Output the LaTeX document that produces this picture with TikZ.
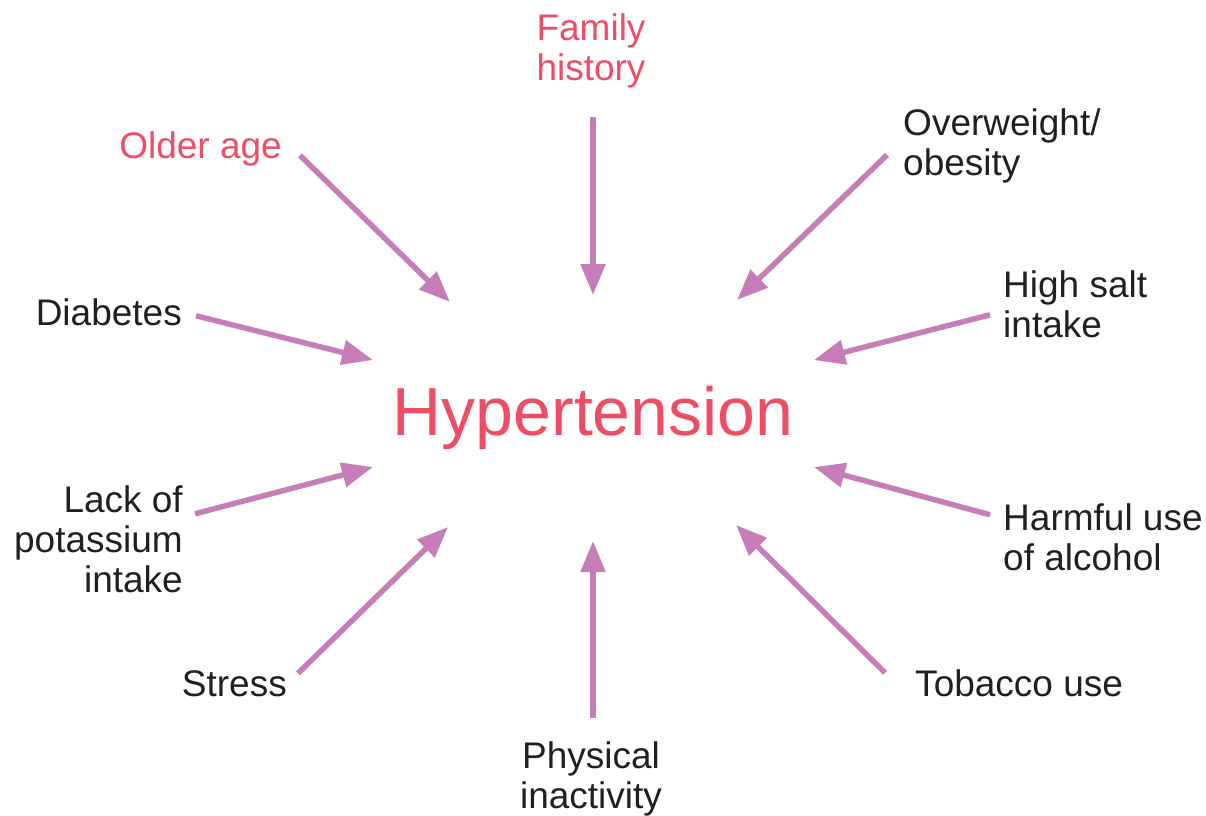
\documentclass[tikz,border=0pt]{standalone}
\usepackage{fontspec}
\setmainfont{Liberation Sans}
\usetikzlibrary{arrows.meta}
\definecolor{riskred}{HTML}{EE4D66}
\definecolor{arrowpink}{HTML}{C77DB8}
\definecolor{textblack}{HTML}{231F20}
\tikzstyle{factor} = [inner sep=0pt, text=textblack, font=\fontsize{37}{40}\selectfont]
\tikzstyle{fixed} = [factor, text=riskred]
\tikzstyle{arrow} = [line width=5.5pt, draw=arrowpink, -{Triangle[length=31pt,width=24pt]}]

\begin{document}
\begin{tikzpicture}[x=1pt,y=-1pt]
    \useasboundingbox (0,0) rectangle (1206,815);

    \node (hyp) [anchor=base, inner sep=0pt, text=riskred, font=\fontsize{68}{80}\selectfont] at (593,435) {Hypertension};

    % multi-line labels sit on the baseline of their last line
    \node (family) [fixed, anchor=base, align=center] at (591,80) {Family\\history};
    \node (older) [fixed, anchor=base east] at (282,158) {Older age};
    \node (obesity) [factor, anchor=base west, align=left] at (903,175) {Overweight/\\obesity};
    \node (diabetes) [factor, anchor=base east] at (182,325) {Diabetes};
    \node (salt) [factor, anchor=base west, align=left] at (1003,337) {High salt\\intake};
    \node (potassium) [factor, anchor=base east, align=right] at (183,592) {Lack of\\potassium\\intake};
    \node (alcohol) [factor, anchor=base west, align=left] at (1003,570) {Harmful use\\of alcohol};
    \node (stress) [factor, anchor=base east] at (287,696) {Stress};
    \node (inactivity) [factor, anchor=base, align=center] at (591,808) {Physical\\inactivity};
    \node (tobacco) [factor, anchor=base west] at (915,696) {Tobacco use};

    % arrow tips round the centre
    \coordinate (tFamily) at (593,295);
    \coordinate (tOlder) at (450,302);
    \coordinate (tObesity) at (737,300);
    \coordinate (tDiabetes) at (373,360);
    \coordinate (tSalt) at (814,360);
    \coordinate (tPotassium) at (373,467);
    \coordinate (tAlcohol) at (814,467);
    \coordinate (tStress) at (448,527);
    \coordinate (tInactivity) at (593,541);
    \coordinate (tTobacco) at (736,525);

    \draw [arrow] ([shift={(2,29)}]family.south) -- (tFamily);
    \draw [arrow] ([shift={(18,7)}]older.east) -- (tOlder);
    \draw [arrow] ([shift={(-16,-28)}]obesity.south west) -- (tObesity);
    \draw [arrow] ([shift={(14,4)}]diabetes.east) -- (tDiabetes);
    \draw [arrow] ([shift={(-13,11)}]salt.west) -- (tSalt);
    \draw [arrow] ([shift={(12,-25)}]potassium.east) -- (tPotassium);
    \draw [arrow] ([shift={(-13,-22)}]alcohol.west) -- (tAlcohol);
    \draw [arrow] ([shift={(11,-10)}]stress.east) -- (tStress);
    \draw [arrow] ([shift={(2,-23)}]inactivity.north) -- (tInactivity);
    \draw [arrow] ([shift={(-30,-10)}]tobacco.west) -- (tTobacco);

\end{tikzpicture}
\end{document}
